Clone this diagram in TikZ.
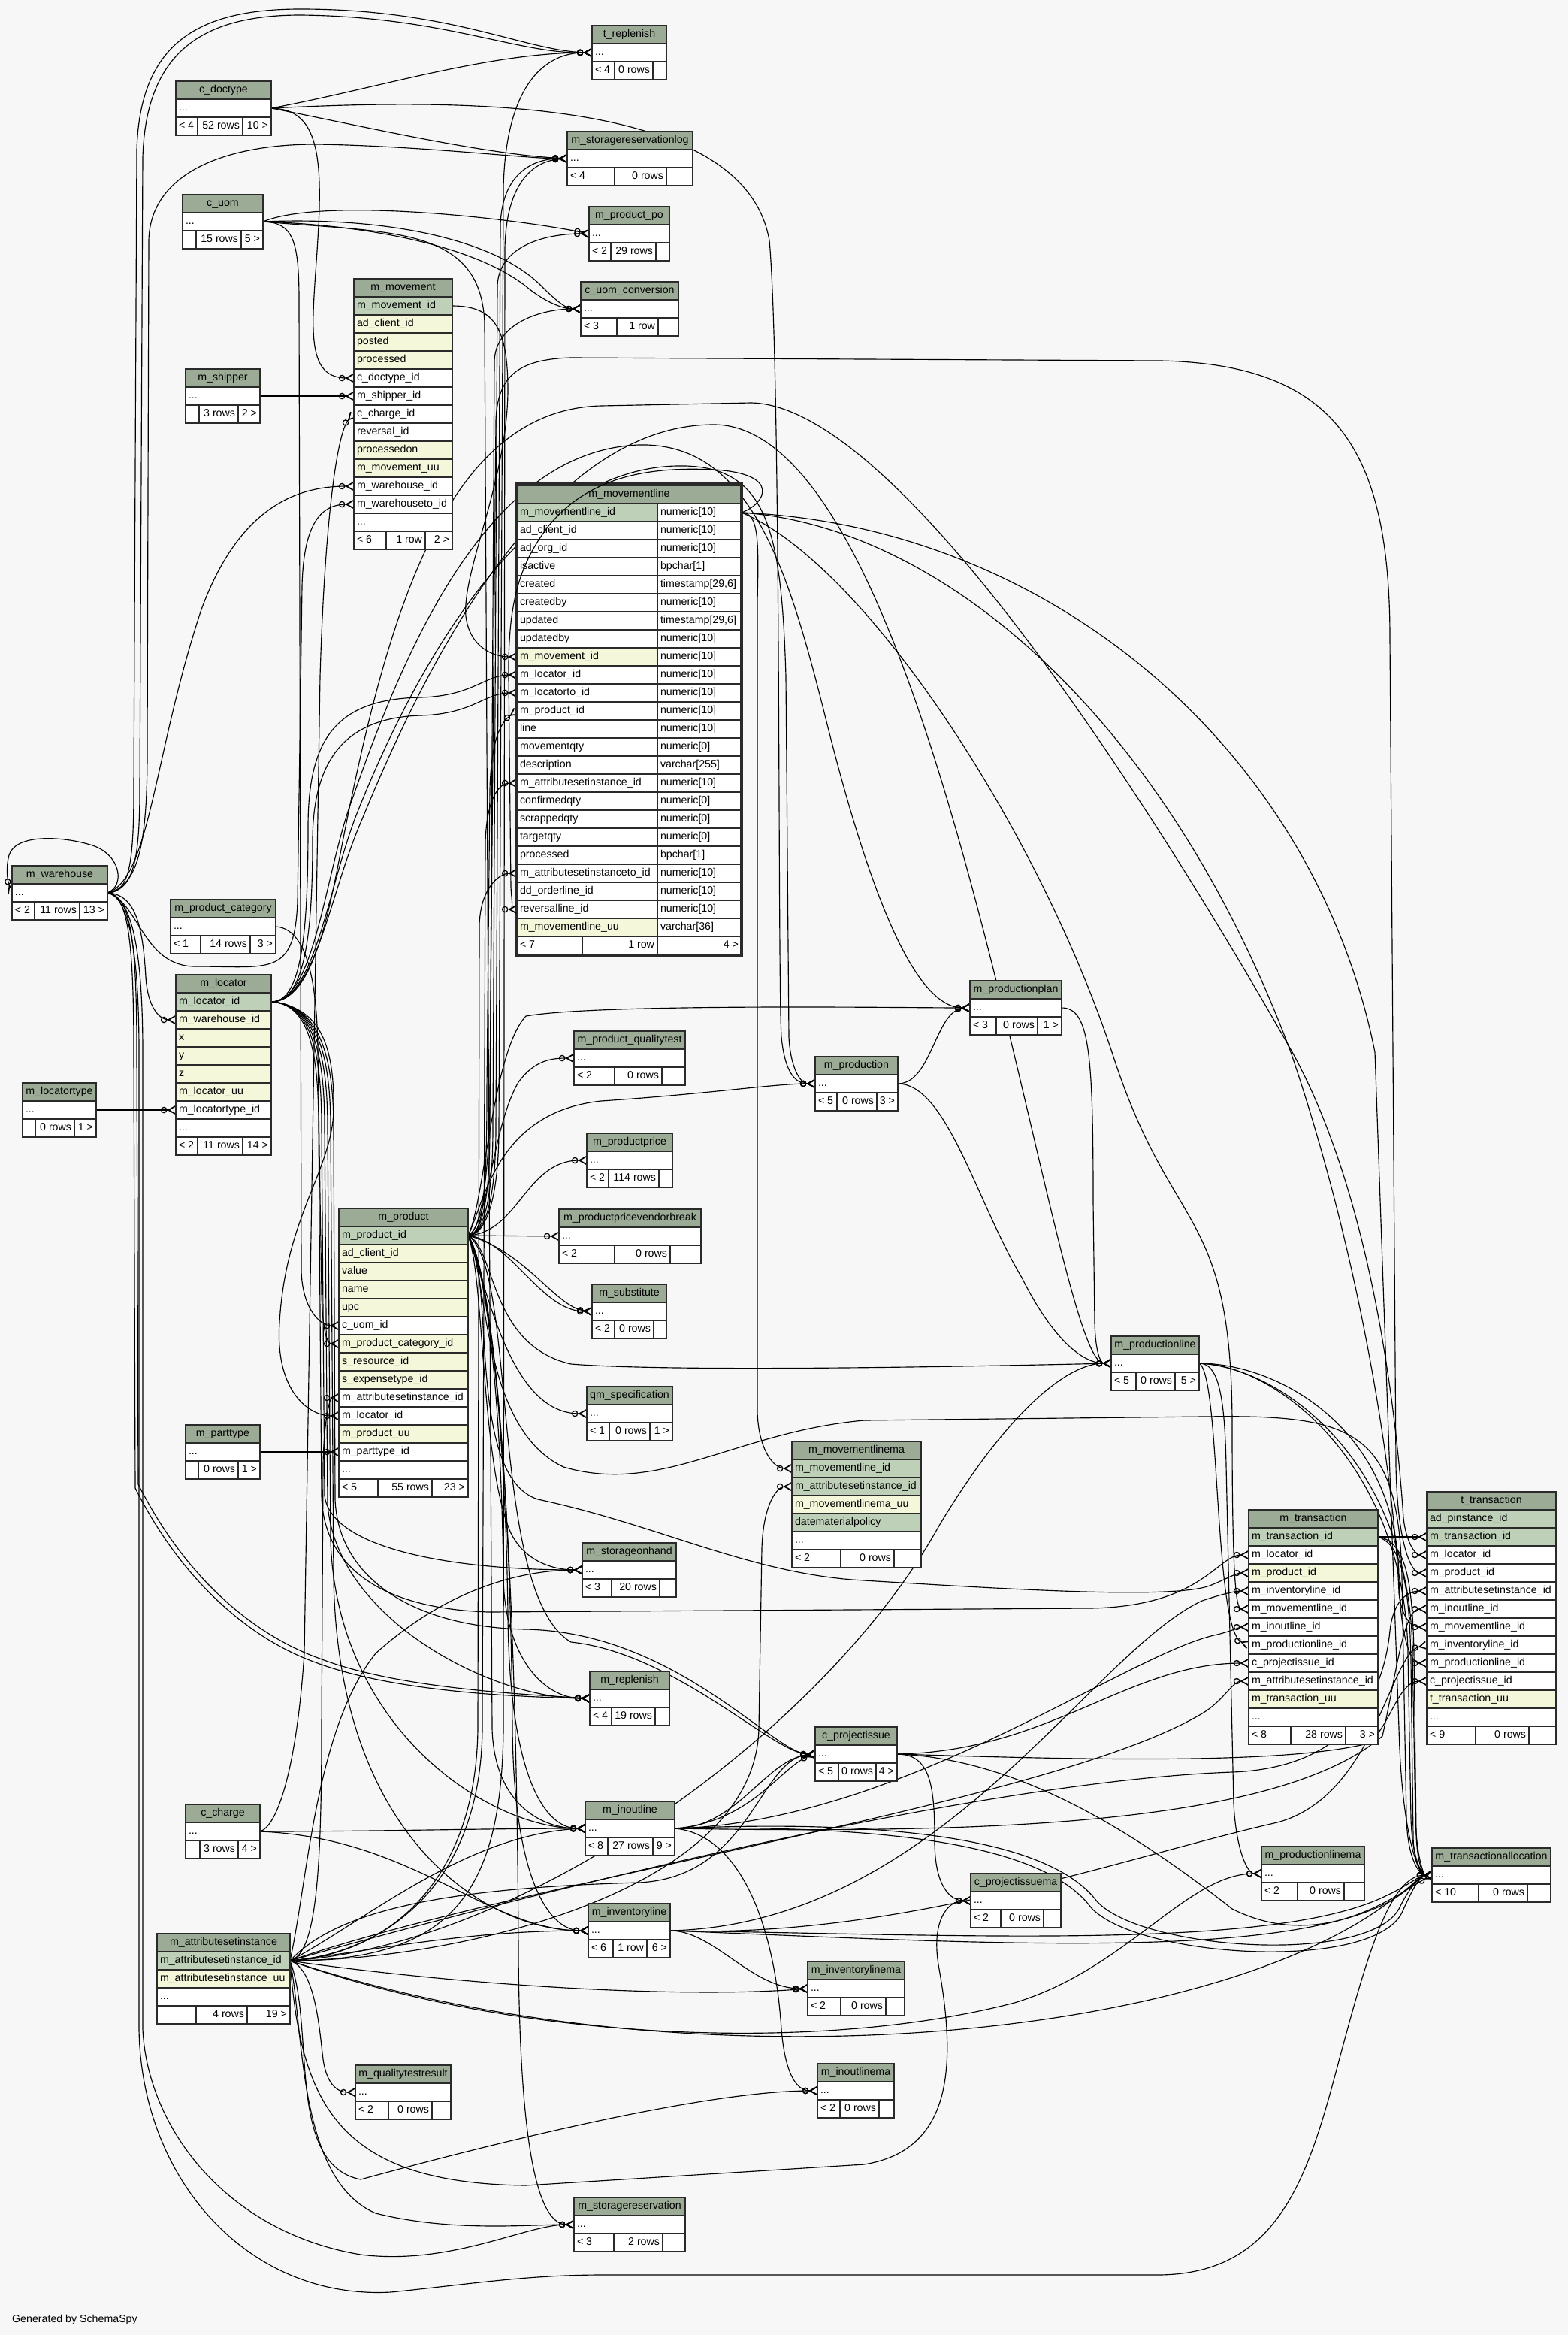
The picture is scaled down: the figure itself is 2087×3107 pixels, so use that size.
\documentclass[tikz,border=0pt]{standalone}
\usepackage{fontspec}
\setmainfont{Liberation Sans}
\usetikzlibrary{arrows.meta}
\definecolor{bg}{HTML}{F7F7F7}
\definecolor{hdr}{HTML}{9BAB96}
\definecolor{pkc}{HTML}{BED1B8}
\definecolor{idx}{HTML}{F4F7DA}
\definecolor{bord}{HTML}{2A2A2A}
\pgfdeclarelayer{bottom}\pgfdeclarelayer{edges}
\pgfsetlayers{bottom,edges,main}
\tikzset{
 cell/.style={draw=bord, line width=1.2pt, anchor=north west, inner sep=0pt, outer sep=0pt, minimum height=24pt, text height=10.3pt, text depth=2.9pt, font=\fontsize{14.2pt}{17pt}\selectfont},
 fk/.style={draw=black, line width=1.15pt, -{Circle[open,length=8.5pt,width=8.5pt,line width=1.3pt]Straight Barb[reversed,length=9pt,width=10pt,line width=1.7pt]}},
}
\newcommand\Hd[5]{\pgfmathsetmacro\ww{#4-#2}\node[cell,fill=hdr] (#1) at (#2,#3) {\hbox to \ww pt{\hfil #5\hfil}};}
\newcommand\Rw[6]{\pgfmathsetmacro\ww{#4-#2}\node[cell,fill=#5] (#1) at (#2,#3) {\hbox to \ww pt{\hskip 4pt #6\hfil}};}
\newcommand\Rr[6]{\pgfmathsetmacro\ww{#4-#2}\node[cell,fill=#5] (#1) at (#2,#3) {\hbox to \ww pt{\hfil #6\hskip 4pt}};}
\newcommand\Ft[9]{\Rw{#1a}{#2}{#3}{#4}{white}{#7}\Rr{#1b}{#4}{#3}{#5}{white}{#8}\Rr{#1c}{#5}{#3}{#6}{white}{#9}}
\newcommand\ST[5]{\Hd{#10}{#2}{#3}{#4}{#5}\pgfmathsetmacro\yy{#3+24}\Rw{#11}{#2}{\yy}{#4}{white}{...}}
\begin{document}
\begin{tikzpicture}[x=1pt,y=-1pt]
\useasboundingbox (0,0) rectangle (2087,3107);
\begin{pgfonlayer}{bottom}
\fill[bg] (0,0) rectangle (2087,3107);
\end{pgfonlayer}

% ---------- simple tables ----------
\ST{trep}{788}{34}{887}{t\_replenish}
\Ft{trepf}{788}{82}{818}{869}{887}{< 4}{0 rows}{}
\ST{cdt}{234}{108}{361}{c\_doctype}
\Ft{cdtf}{234}{156}{263}{323}{361}{< 4}{52 rows}{10 >}
\ST{msrl}{755}{175}{922}{m\_storagereservationlog}
\Ft{msrlf}{755}{223}{818}{887}{922}{< 4}{0 rows}{}
\ST{cuom}{243}{259}{350}{c\_uom}
\Ft{cuomf}{243}{307}{261}{321}{350}{}{15 rows}{5 >}
\ST{mppo}{784}{275}{891}{m\_product\_po}
\Ft{mppof}{784}{323}{813}{873}{891}{< 2}{29 rows}{}
\ST{cuc}{773}{375}{903}{c\_uom\_conversion}
\Ft{cucf}{773}{423}{821}{876}{903}{< 3}{1 row}{}
\ST{mshp}{247}{491}{346}{m\_shipper}
\Ft{mshpf}{247}{539}{265}{317}{346}{}{3 rows}{2 >}
\ST{mwh}{16}{1152}{143}{m\_warehouse}
\Ft{mwhf}{16}{1200}{46}{106}{143}{< 2}{11 rows}{13 >}
\ST{mpc}{227}{1197}{367}{m\_product\_category}
\Ft{mpcf}{227}{1245}{267}{333}{367}{< 1}{14 rows}{3 >}
\ST{mlt}{30}{1441}{128}{m\_locatortype}
\Ft{mltf}{30}{1489}{47}{99}{128}{}{0 rows}{1 >}
\ST{mpp}{1291}{1305}{1413}{m\_productionplan}
\Ft{mppf}{1291}{1353}{1326}{1381}{1413}{< 3}{0 rows}{1 >}
\ST{mpqt}{764}{1372}{912}{m\_product\_qualitytest}
\Ft{mpqtf}{764}{1420}{818}{881}{912}{< 2}{0 rows}{}
\ST{mpr}{1085}{1406}{1195}{m\_production}
\Ft{mprf}{1085}{1454}{1114}{1167}{1195}{< 5}{0 rows}{3 >}
\ST{mpri}{781}{1508}{895}{m\_productprice}
\Ft{mprif}{781}{1556}{810}{877}{895}{< 2}{114 rows}{}
\ST{mpvb}{744}{1609}{933}{m\_productpricevendorbreak}
\Ft{mpvbf}{744}{1657}{818}{892}{933}{< 2}{0 rows}{}
\ST{msub}{788}{1709}{887}{m\_substitute}
\Ft{msubf}{788}{1757}{818}{870}{887}{< 2}{0 rows}{}
\ST{mpl}{1479}{1778}{1596}{m\_productionline}
\Ft{mplf}{1479}{1826}{1512}{1564}{1596}{< 5}{0 rows}{5 >}
\ST{qms}{781}{1845}{895}{qm\_specification}
\Ft{qmsf}{781}{1893}{811}{865}{895}{< 1}{0 rows}{1 >}
\ST{mpt}{247}{1896}{346}{m\_parttype}
\Ft{mptf}{247}{1944}{264}{317}{346}{}{0 rows}{1 >}
\ST{msoh}{775}{2053}{900}{m\_storageonhand}
\Ft{msohf}{775}{2101}{814}{878}{900}{< 3}{20 rows}{}
\ST{mrep}{785}{2224}{891}{m\_replenish}
\Ft{mrepf}{785}{2272}{814}{872}{891}{< 4}{19 rows}{}
\ST{cpi}{1085}{2298}{1194}{c\_projectissue}
\Ft{cpif}{1085}{2346}{1116}{1166}{1194}{< 5}{0 rows}{4 >}
\ST{cch}{247}{2401}{346}{c\_charge}
\Ft{cchf}{247}{2449}{266}{317}{346}{}{3 rows}{4 >}
\ST{mio}{779}{2397}{898}{m\_inoutline}
\Ft{miof}{779}{2445}{809}{869}{898}{< 8}{27 rows}{9 >}
\ST{cpima}{1292}{2493}{1412}{c\_projectissuema}
\Ft{cpimaf}{1292}{2541}{1332}{1389}{1412}{< 2}{0 rows}{}
\ST{mplma}{1679}{2457}{1816}{m\_productionlinema}
\Ft{mplmaf}{1679}{2505}{1727}{1789}{1816}{< 2}{0 rows}{}
\ST{mta}{1906}{2459}{2064}{m\_transactionallocation}
\Ft{mtaf}{1906}{2507}{1968}{2033}{2064}{< 10}{0 rows}{}
\ST{mil}{783}{2533}{892}{m\_inventoryline}
\Ft{milf}{783}{2581}{816}{861}{892}{< 6}{1 row}{6 >}
\ST{milma}{1075}{2610}{1204}{m\_inventorylinema}
\Ft{milmaf}{1075}{2658}{1119}{1179}{1204}{< 2}{0 rows}{}
\ST{mqtr}{473}{2748}{600}{m\_qualitytestresult}
\Ft{mqtrf}{473}{2796}{517}{575}{600}{< 2}{0 rows}{}
\ST{miolma}{1088}{2746}{1190}{m\_inoutlinema}
\Ft{miolmaf}{1088}{2794}{1118}{1170}{1190}{< 2}{0 rows}{}
\ST{msr}{764}{2924}{912}{m\_storagereservation}
\Ft{msrf}{764}{2972}{817}{882}{912}{< 3}{2 rows}{}

% ---------- m_movement ----------
\Hd{mmv0}{471}{371}{602}{m\_movement}
\Rw{mmv1}{471}{395}{602}{pkc}{m\_movement\_id}
\Rw{mmv2}{471}{419}{602}{idx}{ad\_client\_id}
\Rw{mmv3}{471}{443}{602}{idx}{posted}
\Rw{mmv4}{471}{467}{602}{idx}{processed}
\Rw{mmv5}{471}{491}{602}{white}{c\_doctype\_id}
\Rw{mmv6}{471}{515}{602}{white}{m\_shipper\_id}
\Rw{mmv7}{471}{539}{602}{white}{c\_charge\_id}
\Rw{mmv8}{471}{563}{602}{white}{reversal\_id}
\Rw{mmv9}{471}{587}{602}{idx}{processedon}
\Rw{mmv10}{471}{611}{602}{idx}{m\_movement\_uu}
\Rw{mmv11}{471}{635}{602}{white}{m\_warehouse\_id}
\Rw{mmv12}{471}{659}{602}{white}{m\_warehouseto\_id}
\Rw{mmv13}{471}{683}{602}{white}{...}
\Ft{mmvf}{471}{707}{514}{566}{602}{< 6}{1 row}{2 >}

% ---------- m_locator ----------
\Hd{mloc0}{234}{1297}{361}{m\_locator}
\Rw{mloc1}{234}{1321}{361}{pkc}{m\_locator\_id}
\Rw{mloc2}{234}{1345}{361}{idx}{m\_warehouse\_id}
\Rw{mloc3}{234}{1369}{361}{idx}{x}
\Rw{mloc4}{234}{1393}{361}{idx}{y}
\Rw{mloc5}{234}{1417}{361}{idx}{z}
\Rw{mloc6}{234}{1441}{361}{idx}{m\_locator\_uu}
\Rw{mloc7}{234}{1465}{361}{white}{m\_locatortype\_id}
\Rw{mloc8}{234}{1489}{361}{white}{...}
\Ft{mlocf}{234}{1513}{263}{323}{361}{< 2}{11 rows}{14 >}

% ---------- m_product ----------
\Hd{mprod0}{451}{1608}{623}{m\_product}
\Rw{mprod1}{451}{1632}{623}{pkc}{m\_product\_id}
\Rw{mprod2}{451}{1656}{623}{idx}{ad\_client\_id}
\Rw{mprod3}{451}{1680}{623}{idx}{value}
\Rw{mprod4}{451}{1704}{623}{idx}{name}
\Rw{mprod5}{451}{1728}{623}{idx}{upc}
\Rw{mprod6}{451}{1752}{623}{white}{c\_uom\_id}
\Rw{mprod7}{451}{1776}{623}{idx}{m\_product\_category\_id}
\Rw{mprod8}{451}{1800}{623}{idx}{s\_resource\_id}
\Rw{mprod9}{451}{1824}{623}{idx}{s\_expensetype\_id}
\Rw{mprod10}{451}{1848}{623}{white}{m\_attributesetinstance\_id}
\Rw{mprod11}{451}{1872}{623}{white}{m\_locator\_id}
\Rw{mprod12}{451}{1896}{623}{idx}{m\_product\_uu}
\Rw{mprod13}{451}{1920}{623}{white}{m\_parttype\_id}
\Rw{mprod14}{451}{1944}{623}{white}{...}
\Ft{mprodf}{451}{1968}{503}{575}{623}{< 5}{55 rows}{23 >}

% ---------- m_movementlinema ----------
\Hd{mmla0}{1054}{1918}{1226}{m\_movementlinema}
\Rw{mmla1}{1054}{1942}{1226}{pkc}{m\_movementline\_id}
\Rw{mmla2}{1054}{1966}{1226}{pkc}{m\_attributesetinstance\_id}
\Rw{mmla3}{1054}{1990}{1226}{idx}{m\_movementlinema\_uu}
\Rw{mmla4}{1054}{2014}{1226}{pkc}{datematerialpolicy}
\Rw{mmla5}{1054}{2038}{1226}{white}{...}
\Ft{mmlaf}{1054}{2062}{1119}{1190}{1226}{< 2}{0 rows}{}

% ---------- m_transaction ----------
\Hd{mtx0}{1662}{2009}{1834}{m\_transaction}
\Rw{mtx1}{1662}{2033}{1834}{pkc}{m\_transaction\_id}
\Rw{mtx2}{1662}{2057}{1834}{white}{m\_locator\_id}
\Rw{mtx3}{1662}{2081}{1834}{idx}{m\_product\_id}
\Rw{mtx4}{1662}{2105}{1834}{white}{m\_inventoryline\_id}
\Rw{mtx5}{1662}{2129}{1834}{white}{m\_movementline\_id}
\Rw{mtx6}{1662}{2153}{1834}{white}{m\_inoutline\_id}
\Rw{mtx7}{1662}{2177}{1834}{white}{m\_productionline\_id}
\Rw{mtx8}{1662}{2201}{1834}{white}{c\_projectissue\_id}
\Rw{mtx9}{1662}{2225}{1834}{white}{m\_attributesetinstance\_id}
\Rw{mtx10}{1662}{2249}{1834}{idx}{m\_transaction\_uu}
\Rw{mtx11}{1662}{2273}{1834}{white}{...}
\Ft{mtxf}{1662}{2297}{1718}{1791}{1834}{< 8}{28 rows}{3 >}

% ---------- t_transaction ----------
\Hd{ttx0}{1899}{1985}{2071}{t\_transaction}
\Rw{ttx1}{1899}{2009}{2071}{pkc}{ad\_pinstance\_id}
\Rw{ttx2}{1899}{2033}{2071}{pkc}{m\_transaction\_id}
\Rw{ttx3}{1899}{2057}{2071}{white}{m\_locator\_id}
\Rw{ttx4}{1899}{2081}{2071}{white}{m\_product\_id}
\Rw{ttx5}{1899}{2105}{2071}{white}{m\_attributesetinstance\_id}
\Rw{ttx6}{1899}{2129}{2071}{white}{m\_inoutline\_id}
\Rw{ttx7}{1899}{2153}{2071}{white}{m\_movementline\_id}
\Rw{ttx8}{1899}{2177}{2071}{white}{m\_inventoryline\_id}
\Rw{ttx9}{1899}{2201}{2071}{white}{m\_productionline\_id}
\Rw{ttx10}{1899}{2225}{2071}{white}{c\_projectissue\_id}
\Rw{ttx11}{1899}{2249}{2071}{idx}{t\_transaction\_uu}
\Rw{ttx12}{1899}{2273}{2071}{white}{...}
\Ft{ttxf}{1899}{2297}{1964}{2035}{2071}{< 9}{0 rows}{}

% ---------- m_attributesetinstance ----------
\Hd{masi0}{209}{2573}{386}{m\_attributesetinstance}
\Rw{masi1}{209}{2597}{386}{pkc}{m\_attributesetinstance\_id}
\Rw{masi2}{209}{2621}{386}{idx}{m\_attributesetinstance\_uu}
\Rw{masi3}{209}{2645}{386}{white}{...}
\Ft{masif}{209}{2669}{261}{329}{386}{}{4 rows}{19 >}

% ---------- m_movementline ----------
\Hd{mml0}{688}{646}{987}{m\_movementline}
\Rw{mml1}{688}{670}{875}{pkc}{m\_movementline\_id}\Rw{mmlt1}{875}{670}{987}{white}{numeric[10]}
\Rw{mml2}{688}{694}{875}{white}{ad\_client\_id}\Rw{mmlt2}{875}{694}{987}{white}{numeric[10]}
\Rw{mml3}{688}{718}{875}{white}{ad\_org\_id}\Rw{mmlt3}{875}{718}{987}{white}{numeric[10]}
\Rw{mml4}{688}{742}{875}{white}{isactive}\Rw{mmlt4}{875}{742}{987}{white}{bpchar[1]}
\Rw{mml5}{688}{766}{875}{white}{created}\Rw{mmlt5}{875}{766}{987}{white}{timestamp[29,6]}
\Rw{mml6}{688}{790}{875}{white}{createdby}\Rw{mmlt6}{875}{790}{987}{white}{numeric[10]}
\Rw{mml7}{688}{814}{875}{white}{updated}\Rw{mmlt7}{875}{814}{987}{white}{timestamp[29,6]}
\Rw{mml8}{688}{838}{875}{white}{updatedby}\Rw{mmlt8}{875}{838}{987}{white}{numeric[10]}
\Rw{mml9}{688}{862}{875}{idx}{m\_movement\_id}\Rw{mmlt9}{875}{862}{987}{white}{numeric[10]}
\Rw{mml10}{688}{886}{875}{white}{m\_locator\_id}\Rw{mmlt10}{875}{886}{987}{white}{numeric[10]}
\Rw{mml11}{688}{910}{875}{white}{m\_locatorto\_id}\Rw{mmlt11}{875}{910}{987}{white}{numeric[10]}
\Rw{mml12}{688}{934}{875}{white}{m\_product\_id}\Rw{mmlt12}{875}{934}{987}{white}{numeric[10]}
\Rw{mml13}{688}{958}{875}{white}{line}\Rw{mmlt13}{875}{958}{987}{white}{numeric[10]}
\Rw{mml14}{688}{982}{875}{white}{movementqty}\Rw{mmlt14}{875}{982}{987}{white}{numeric[0]}
\Rw{mml15}{688}{1006}{875}{white}{description}\Rw{mmlt15}{875}{1006}{987}{white}{varchar[255]}
\Rw{mml16}{688}{1030}{875}{white}{m\_attributesetinstance\_id}\Rw{mmlt16}{875}{1030}{987}{white}{numeric[10]}
\Rw{mml17}{688}{1054}{875}{white}{confirmedqty}\Rw{mmlt17}{875}{1054}{987}{white}{numeric[0]}
\Rw{mml18}{688}{1078}{875}{white}{scrappedqty}\Rw{mmlt18}{875}{1078}{987}{white}{numeric[0]}
\Rw{mml19}{688}{1102}{875}{white}{targetqty}\Rw{mmlt19}{875}{1102}{987}{white}{numeric[0]}
\Rw{mml20}{688}{1126}{875}{white}{processed}\Rw{mmlt20}{875}{1126}{987}{white}{bpchar[1]}
\Rw{mml21}{688}{1150}{875}{white}{m\_attributesetinstanceto\_id}\Rw{mmlt21}{875}{1150}{987}{white}{numeric[10]}
\Rw{mml22}{688}{1174}{875}{white}{dd\_orderline\_id}\Rw{mmlt22}{875}{1174}{987}{white}{numeric[10]}
\Rw{mml23}{688}{1198}{875}{white}{reversalline\_id}\Rw{mmlt23}{875}{1198}{987}{white}{numeric[10]}
\Rw{mml24}{688}{1222}{875}{idx}{m\_movementline\_uu}\Rw{mmlt24}{875}{1222}{987}{white}{varchar[36]}
\Ft{mmlf}{688}{1246}{775}{875}{987}{< 7}{1 row}{4 >}
\draw[bord,line width=3.5pt] (688,644) rectangle (987,1272);

\node[anchor=west,font=\fontsize{14.2pt}{17pt}\selectfont,inner sep=0pt] (gen) at (16,3087) {Generated by SchemaSpy};

% ---------- connectors ----------
\begin{pgfonlayer}{edges}
% c_doctype
\draw[fk] (cdt1.east) .. controls (500,118) and (650,70) .. (trep1.west);
\draw[fk] (cdt1.east) .. controls (470,165) and (640,205) .. (msrl1.west);
\draw[fk] (cdt1.east) .. controls (415,145) and (430,190) .. (424,300) .. controls (418,420) and (400,503) .. (mmv5.west);
\draw[fk] (cdt1.east) .. controls (600,132) and (990,125) .. (1024,320) .. controls (1040,500) and (1035,1300) .. (1040,1380) .. controls (1045,1430) and (1060,1442) .. (mpr1.west);
% c_uom
\draw[fk] (cuom1.east) .. controls (430,262) and (680,290) .. (mppo1.west);
\draw[fk] (cuom1.east) .. controls (520,288) and (660,320) .. (720,380) .. controls (745,405) and (755,411) .. (cuc1.west);
\draw[fk] (cuom1.east) .. controls (500,300) and (640,330) .. (705,385) .. controls (735,408) and (755,411) .. (cuc1.west);
\draw[fk] (cuom1.east) .. controls (390,296) and (398,320) .. (398,400) -- (401,1690) .. controls (402,1740) and (425,1764) .. (mprod6.west);
\draw[fk] (cuom1.east) .. controls (520,310) and (640,300) .. (645,430) -- (655,2300) .. controls (658,2400) and (720,2433) .. (mio1.west);
% m_shipper
\draw[fk] (mshp1.east) -- (mmv6.west);
% m_warehouse
\draw[fk] (mwh1.east) .. controls (172,1188) and (178,1150) .. (178,1050) -- (182,200) .. controls (186,60) and (260,12) .. (400,12) .. controls (600,12) and (700,68) .. (trep1.west);
\draw[fk] (mwh1.east) .. controls (176,1185) and (186,1150) .. (186,1050) -- (190,210) .. controls (194,70) and (268,20) .. (400,20) .. controls (590,22) and (690,72) .. (trep1.west);
\draw[fk] (mwh1.east) .. controls (185,1180) and (196,1120) .. (196,1000) -- (198,320) .. controls (200,230) and (300,192) .. (420,192) .. controls (560,194) and (700,211) .. (msrl1.west);
\draw[fk] (mwh1.east) .. controls (180,1190) and (190,1230) .. (194,1300) .. controls (197,1345) and (215,1357) .. (mloc2.west);
\draw[fk] (mwh1.east) .. controls (200,1170) and (205,1000) .. (268,811) .. controls (320,670) and (400,647) .. (mmv11.west);
\draw[fk] (mwh1.east) .. controls (185,1200) and (190,1286) .. (260,1286) .. controls (360,1286) and (392,1300) .. (396,1200) -- (402,780) .. controls (404,700) and (425,671) .. (mmv12.west);
\draw[fk] (mwh1.east) .. controls (170,1190) and (178,1250) .. (178,1400) -- (180,1980) .. controls (240,2100) and (330,2180) .. (420,2212) .. controls (520,2250) and (680,2258) .. (mrep1.west);
\draw[fk] (mwh1.east) .. controls (174,1192) and (182,1250) .. (182,1400) -- (184,1975) .. controls (246,2098) and (336,2175) .. (426,2207) .. controls (524,2245) and (684,2254) .. (mrep1.west);
\draw[fk] (mwh1.east) .. controls (172,1192) and (190,1250) .. (190,1400) -- (190,2700) .. controls (196,2830) and (300,2970) .. (480,3000) .. controls (600,3015) and (700,2960) .. (msr1.west);
\draw[fk] (mwh1.east) .. controls (168,1192) and (185,1250) .. (185,1400) -- (185,2700) .. controls (188,2900) and (330,3060) .. (520,3050) .. controls (620,3040) and (700,3027) .. (800,3027) -- (1540,3027) .. controls (1700,3027) and (1740,2900) .. (1780,2750) .. controls (1820,2600) and (1850,2495) .. (mta1.west);
\draw[fk] (mwh1.east) .. controls (168,1178) and (160,1135) .. (120,1124) .. controls (80,1112) and (20,1110) .. (12,1138) .. controls (8,1152) and (9,1170) .. (mwh1.west);
% m_product_category, m_locatortype, m_parttype
\draw[fk] (mpc1.east) .. controls (400,1235) and (422,1280) .. (423,1400) -- (428,1720) .. controls (429,1770) and (435,1788) .. (mprod7.west);
\draw[fk] (mlt1.east) -- (mloc7.west);
\draw[fk] (mpt1.east) -- (mprod13.west);
% m_movement
\draw[fk] (mmv1.east) .. controls (660,407) and (676,440) .. (676,520) .. controls (675,640) and (615,760) .. (620,820) .. controls (625,860) and (655,874) .. (mml9.west);
% m_locator
\draw[fk] (mloc1.east) .. controls (400,1333) and (410,1250) .. (410,1100) .. controls (410,980) and (450,930) .. (560,928) .. controls (630,926) and (645,898) .. (mml10.west);
\draw[fk] (mloc1.east) .. controls (404,1333) and (416,1250) .. (416,1120) .. controls (416,1010) and (460,955) .. (560,952) .. controls (630,950) and (645,922) .. (mml11.west);
\draw[fk] (mloc1.east) .. controls (420,1340) and (446,1380) .. (444,1480) .. controls (440,1560) and (380,1620) .. (372,1760) .. controls (366,1850) and (410,1884) .. (mprod11.west);
\draw[fk] (mloc1.east) .. controls (420,1333) and (440,1200) .. (460,1100) .. controls (520,800) and (600,545) .. (800,540) -- (1000,536) .. controls (1200,540) and (1550,1100) .. (1720,1400) .. controls (1830,1600) and (1860,1900) .. (1868,2020) .. controls (1872,2055) and (1885,2069) .. (ttx3.west);
\draw[fk] (mloc1.east) .. controls (420,1333) and (432,1160) .. (470,1060) .. controls (540,860) and (650,600) .. (850,592) .. controls (1000,588) and (1050,760) .. (1100,960) .. controls (1160,1200) and (1220,1341) .. (mpp1.west);
\draw[fk] (mloc1.east) .. controls (420,1333) and (436,1180) .. (476,1080) .. controls (556,880) and (700,625) .. (900,620) .. controls (1020,617) and (1040,700) .. (1046,900) -- (1050,1380) .. controls (1052,1420) and (1065,1442) .. (mpr1.west);
\draw[fk] (mloc1.east) .. controls (420,1333) and (438,1190) .. (482,1090) .. controls (560,900) and (720,565) .. (950,565) .. controls (1250,565) and (1400,1814) .. (mpl1.west);
\draw[fk] (mloc1.east) .. controls (412,1336) and (424,1400) .. (424,1500) -- (428,1990) .. controls (430,2080) and (500,2140) .. (650,2145) -- (1450,2140) .. controls (1600,2138) and (1620,2069) .. (mtx2.west);
\draw[fk] (mloc1.east) .. controls (414,1336) and (428,1400) .. (428,1500) -- (432,1990) .. controls (440,2060) and (600,2089) .. (msoh1.west);
\draw[fk] (mloc1.east) .. controls (416,1336) and (432,1400) .. (432,1500) -- (436,2000) .. controls (445,2150) and (650,2260) .. (mrep1.west);
\draw[fk] (mloc1.east) .. controls (418,1336) and (436,1400) .. (436,1500) -- (440,2050) .. controls (448,2300) and (650,2433) .. (mio1.west);
\draw[fk] (mloc1.east) .. controls (420,1336) and (440,1400) .. (440,1500) -- (444,2100) .. controls (450,2450) and (650,2569) .. (mil1.west);
\draw[fk] (mloc1.east) .. controls (422,1336) and (444,1400) .. (444,1500) -- (446,1995) .. controls (450,2100) and (550,2165) .. (700,2168) .. controls (900,2172) and (1030,2334) .. (cpi1.west);
% m_product
\draw[fk] (mprod1.east) .. controls (645,1644) and (664,1600) .. (664,1500) -- (670,250) .. controls (673,120) and (720,70) .. (trep1.west);
\draw[fk] (mprod1.east) .. controls (645,1642) and (660,1600) .. (660,1500) -- (666,300) .. controls (668,230) and (710,211) .. (msrl1.west);
\draw[fk] (mprod1.east) .. controls (643,1642) and (656,1600) .. (656,1500) -- (662,380) .. controls (664,330) and (720,311) .. (mppo1.west);
\draw[fk] (mprod1.east) .. controls (641,1642) and (652,1600) .. (652,1500) -- (658,480) .. controls (660,430) and (720,411) .. (cuc1.west);
\draw[fk] (mprod1.east) .. controls (642,1644) and (648,1600) .. (648,1450) -- (652,1050) .. controls (654,980) and (668,960) .. (mml12.west);
\draw[fk] (mprod1.east) .. controls (650,1630) and (655,1500) .. (690,1440) .. controls (712,1410) and (735,1408) .. (mpqt1.west);
\draw[fk] (mprod1.east) .. controls (690,1640) and (700,1544) .. (mpri1.west);
\draw[fk] (mprod1.east) -- (mpvb1.west);
\draw[fk] (mprod1.east) .. controls (680,1650) and (720,1745) .. (msub1.west);
\draw[fk] (mprod1.east) .. controls (700,1665) and (740,1740) .. (msub1.west);
\draw[fk] (mprod1.east) .. controls (650,1720) and (680,1881) .. (qms1.west);
\draw[fk] (mprod1.east) .. controls (660,1660) and (650,1790) .. (760,1815) .. controls (900,1826) and (1300,1818) .. (mpl1.west);
\draw[fk] (mprod1.east) .. controls (645,1600) and (660,1480) .. (800,1465) .. controls (950,1455) and (1030,1442) .. (mpr1.west);
\draw[fk] (mprod1.east) .. controls (645,1600) and (655,1400) .. (700,1352) .. controls (800,1335) and (1200,1341) .. (mpp1.west);
\draw[fk] (mprod1.east) .. controls (645,1700) and (640,1950) .. (680,2040) .. controls (700,2080) and (740,2089) .. (msoh1.west);
\draw[fk] (mprod1.east) .. controls (652,1700) and (668,1900) .. (670,2100) .. controls (672,2200) and (720,2260) .. (mrep1.west);
\draw[fk] (mprod1.east) .. controls (655,1700) and (674,1950) .. (676,2150) .. controls (678,2350) and (720,2433) .. (mio1.west);
\draw[fk] (mprod1.east) .. controls (658,1700) and (680,2000) .. (682,2300) .. controls (684,2500) and (730,2569) .. (mil1.west);
\draw[fk] (mprod1.east) .. controls (662,1700) and (688,2100) .. (690,2600) .. controls (692,2880) and (720,2960) .. (msr1.west);
\draw[fk] (mprod1.east) .. controls (690,1690) and (650,2120) .. (760,2185) .. controls (900,2200) and (1030,2334) .. (cpi1.west);
\draw[fk] (mprod1.east) .. controls (660,1700) and (620,1965) .. (716,1995) .. controls (880,2030) and (1000,2095) .. (1150,2103) .. controls (1350,2115) and (1560,2128) .. (1610,2110) .. controls (1635,2100) and (1645,2093) .. (mtx3.west);
\draw[fk] (mprod1.east) .. controls (650,1700) and (640,1900) .. (750,1952) .. controls (880,1990) and (980,1905) .. (1150,1890) -- (1600,1885) .. controls (1800,1882) and (1862,1900) .. (1866,2100) -- (1872,2420) .. controls (1874,2480) and (1892,2495) .. (mta1.west);
\draw[fk] (mprod1.east) .. controls (640,1640) and (652,1560) .. (652,1450) -- (660,560) .. controls (662,500) and (690,478) .. (760,476) -- (1545,480) .. controls (1780,485) and (1850,600) .. (1850,850) -- (1858,1950) .. controls (1860,2060) and (1880,2093) .. (ttx4.west);
% m_attributesetinstance
\draw[fk] (masi1.east) .. controls (420,2600) and (428,2500) .. (428,2300) -- (430,1950) .. controls (431,1885) and (440,1860) .. (mprod10.west);
\draw[fk] (masi1.east) .. controls (500,2600) and (640,2520) .. (642,2300) -- (646,1120) .. controls (648,1060) and (665,1042) .. (mml16.west);
\draw[fk] (masi1.east) .. controls (520,2600) and (634,2500) .. (636,2300) -- (638,1230) .. controls (640,1180) and (665,1162) .. (mml21.west);
\draw[fk] (masi1.east) .. controls (600,2609) and (1005,2520) .. (1010,2300) -- (1014,2060) .. controls (1016,2000) and (1035,1978) .. (mmla2.west);
\draw[fk] (masi1.east) .. controls (600,2609) and (668,2520) .. (670,2300) -- (672,330) .. controls (674,240) and (712,214) .. (msrl1.west);
\draw[fk] (masi1.east) .. controls (410,2500) and (420,2300) .. (500,2200) .. controls (600,2110) and (700,2089) .. (msoh1.west);
\draw[fk] (masi1.east) .. controls (480,2560) and (620,2440) .. (mio1.west);
\draw[fk] (masi1.east) .. controls (500,2595) and (620,2569) .. (mil1.west);
\draw[fk] (masi1.east) .. controls (450,2540) and (600,2512) .. (850,2505) .. controls (1000,2498) and (1010,2340) .. (cpi1.west);
\draw[fk] (masi1.east) .. controls (700,2590) and (1100,2300) .. (1250,2030) .. controls (1340,1880) and (1420,1814) .. (mpl1.west);
\draw[fk] (masi1.east) .. controls (700,2500) and (1400,2400) .. (1600,2280) .. controls (1630,2262) and (1640,2237) .. (mtx9.west);
\draw[fk] (masi1.east) .. controls (700,2520) and (1300,2370) .. (1640,2358) .. controls (1800,2352) and (1842,2250) .. (1850,2170) .. controls (1854,2132) and (1872,2117) .. (ttx5.west);
\draw[fk] (masi1.east) .. controls (900,2780) and (1600,2720) .. (1850,2530) .. controls (1880,2512) and (1892,2495) .. (mta1.west);
\draw[fk] (masi1.east) .. controls (700,2720) and (1100,2730) .. (1350,2665) .. controls (1500,2620) and (1580,2493) .. (mplma1.west);
\draw[fk] (masi1.east) .. controls (600,2640) and (900,2660) .. (milma1.west);
\draw[fk] (masi1.east) .. controls (420,2700) and (380,2880) .. (480,2900) .. controls (700,2840) and (950,2782) .. (miolma1.west);
\draw[fk] (masi1.east) .. controls (400,2800) and (450,2905) .. (700,2908) -- (1150,2880) .. controls (1262,2862) and (1275,2760) .. (1250,2620) .. controls (1238,2555) and (1262,2529) .. (cpima1.west);
\draw[fk] (masi1.east) .. controls (420,2620) and (425,2700) .. (430,2740) .. controls (435,2775) and (450,2784) .. (mqtr1.west);
\draw[fk] (masi1.east) .. controls (405,2700) and (395,2900) .. (500,2945) .. controls (600,2970) and (700,2960) .. (msr1.west);
% c_charge
\draw[fk] (cch1.east) .. controls (370,2430) and (395,2350) .. (405,2200) -- (426,900) .. controls (432,700) and (448,575) .. (mmv7.west);
\draw[fk] (cch1.east) .. controls (500,2437) and (650,2433) .. (mio1.west);
\draw[fk] (cch1.east) .. controls (550,2445) and (650,2569) .. (mil1.west);
% m_inoutline
\draw[fk] (mio1.east) .. controls (980,2433) and (1020,2340) .. (cpi1.west);
\draw[fk] (mio1.east) .. controls (1000,2425) and (1040,2350) .. (cpi1.west);
\draw[fk] (mio1.east) .. controls (980,2440) and (1030,2550) .. (1040,2700) .. controls (1045,2760) and (1060,2782) .. (miolma1.west);
\draw[fk] (mio1.east) .. controls (1200,2425) and (1500,2200) .. (1620,2175) .. controls (1640,2170) and (1650,2165) .. (mtx6.west);
\draw[fk] (mio1.east) .. controls (1300,2440) and (1700,2430) .. (1840,2310) .. controls (1858,2230) and (1868,2141) .. (ttx6.west);
\draw[fk] (mio1.east) .. controls (1200,2420) and (1400,2450) .. (1460,2530) .. controls (1520,2595) and (1820,2615) .. (1862,2540) .. controls (1874,2515) and (1890,2495) .. (mta1.west);
\draw[fk] (mio1.east) .. controls (1200,2428) and (1392,2458) .. (1452,2538) .. controls (1512,2605) and (1826,2625) .. (1866,2545) .. controls (1878,2518) and (1890,2495) .. (mta1.west);
% m_inventoryline
\draw[fk] (mil1.east) .. controls (950,2569) and (1000,2646) .. (milma1.west);
\draw[fk] (mil1.east) .. controls (1250,2560) and (1450,2200) .. (1600,2130) .. controls (1630,2120) and (1645,2117) .. (mtx4.west);
\draw[fk] (mil1.east) .. controls (1200,2580) and (1500,2470) .. (1700,2425) .. controls (1830,2390) and (1850,2200) .. (ttx8.west);
\draw[fk] (mil1.east) .. controls (1300,2585) and (1700,2610) .. (1850,2530) .. controls (1878,2512) and (1890,2495) .. (mta1.west);
\draw[fk] (mil1.east) .. controls (1300,2575) and (1700,2595) .. (1846,2522) .. controls (1876,2508) and (1890,2495) .. (mta1.west);
% c_projectissue
\draw[fk] (cpi1.east) .. controls (1240,2334) and (1244,2380) .. (1244,2450) .. controls (1244,2510) and (1265,2529) .. (cpima1.west);
\draw[fk] (cpi1.east) .. controls (1400,2330) and (1500,2213) .. (mtx8.west);
\draw[fk] (cpi1.east) .. controls (1400,2340) and (1700,2350) .. (1820,2320) .. controls (1850,2300) and (1860,2237) .. (ttx10.west);
\draw[fk] (cpi1.east) .. controls (1350,2340) and (1500,2430) .. (1640,2540) .. controls (1760,2600) and (1860,2520) .. (mta1.west);
% m_production, m_productionplan
\draw[fk] (mpr1.east) .. controls (1240,1442) and (1245,1345) .. (mpp1.west);
\draw[fk] (mpr1.east) .. controls (1260,1442) and (1300,1600) .. (1360,1700) .. controls (1400,1780) and (1440,1814) .. (mpl1.west);
\draw[fk] (mpp1.east) .. controls (1450,1341) and (1455,1400) .. (1455,1600) -- (1457,1760) .. controls (1458,1800) and (1465,1814) .. (mpl1.west);
% m_productionline
\draw[fk] (mpl1.east) .. controls (1620,1814) and (1630,1850) .. (1632,1950) -- (1642,2400) .. controls (1645,2460) and (1660,2493) .. (mplma1.west);
\draw[fk] (mpl1.east) .. controls (1625,1830) and (1615,2170) .. (mtx7.west);
\draw[fk] (mpl1.east) .. controls (1700,1814) and (1860,1900) .. (1862,2100) .. controls (1864,2180) and (1878,2213) .. (ttx9.west);
\draw[fk] (mpl1.east) .. controls (1700,1816) and (1870,1950) .. (1874,2200) -- (1878,2420) .. controls (1880,2480) and (1895,2495) .. (mta1.west);
\draw[fk] (mpl1.east) .. controls (1710,1820) and (1878,1950) .. (1880,2200) -- (1884,2420) .. controls (1886,2480) and (1897,2495) .. (mta1.west);
% m_movementline
\draw[fk] (mmlt1.east) .. controls (1010,682) and (1010,720) .. (1008,800) -- (1008,1880) .. controls (1010,1930) and (1030,1954) .. (mmla1.west);
\draw[fk] (mmlt1.east) .. controls (1150,750) and (1380,1100) .. (1480,1400) .. controls (1560,1650) and (1640,1600) .. (1640,1900) .. controls (1640,2100) and (1645,2141) .. (mtx5.west);
\draw[fk] (mmlt1.east) .. controls (1250,700) and (1550,950) .. (1718,1400) .. controls (1820,1700) and (1858,2000) .. (1862,2120) .. controls (1866,2155) and (1880,2165) .. (ttx7.west);
\draw[fk] (mmlt1.east) .. controls (1400,700) and (1750,1000) .. (1830,1400) -- (1862,2300) .. controls (1866,2450) and (1890,2495) .. (mta1.west);
% m_transaction
\draw[fk] (mtx1.east) -- (ttx2.west);
\draw[fk] (mtx1.east) .. controls (1870,2050) and (1880,2100) .. (1882,2200) -- (1885,2440) .. controls (1886,2480) and (1895,2495) .. (mta1.west);
\draw[fk] (mtx1.east) .. controls (1866,2055) and (1876,2110) .. (1878,2210) -- (1881,2445) .. controls (1882,2482) and (1893,2495) .. (mta1.west);
\end{pgfonlayer}
% self reference of m_movementline drawn over the table
\draw[fk] (mmlt1.east) .. controls (1020,670) and (1040,630) .. (950,625) .. controls (850,620) and (780,640) .. (730,700) .. controls (692,750) and (676,800) .. (677,900) -- (680,1180) .. controls (681,1200) and (684,1210) .. (mml23.west);
\end{tikzpicture}
\end{document}
